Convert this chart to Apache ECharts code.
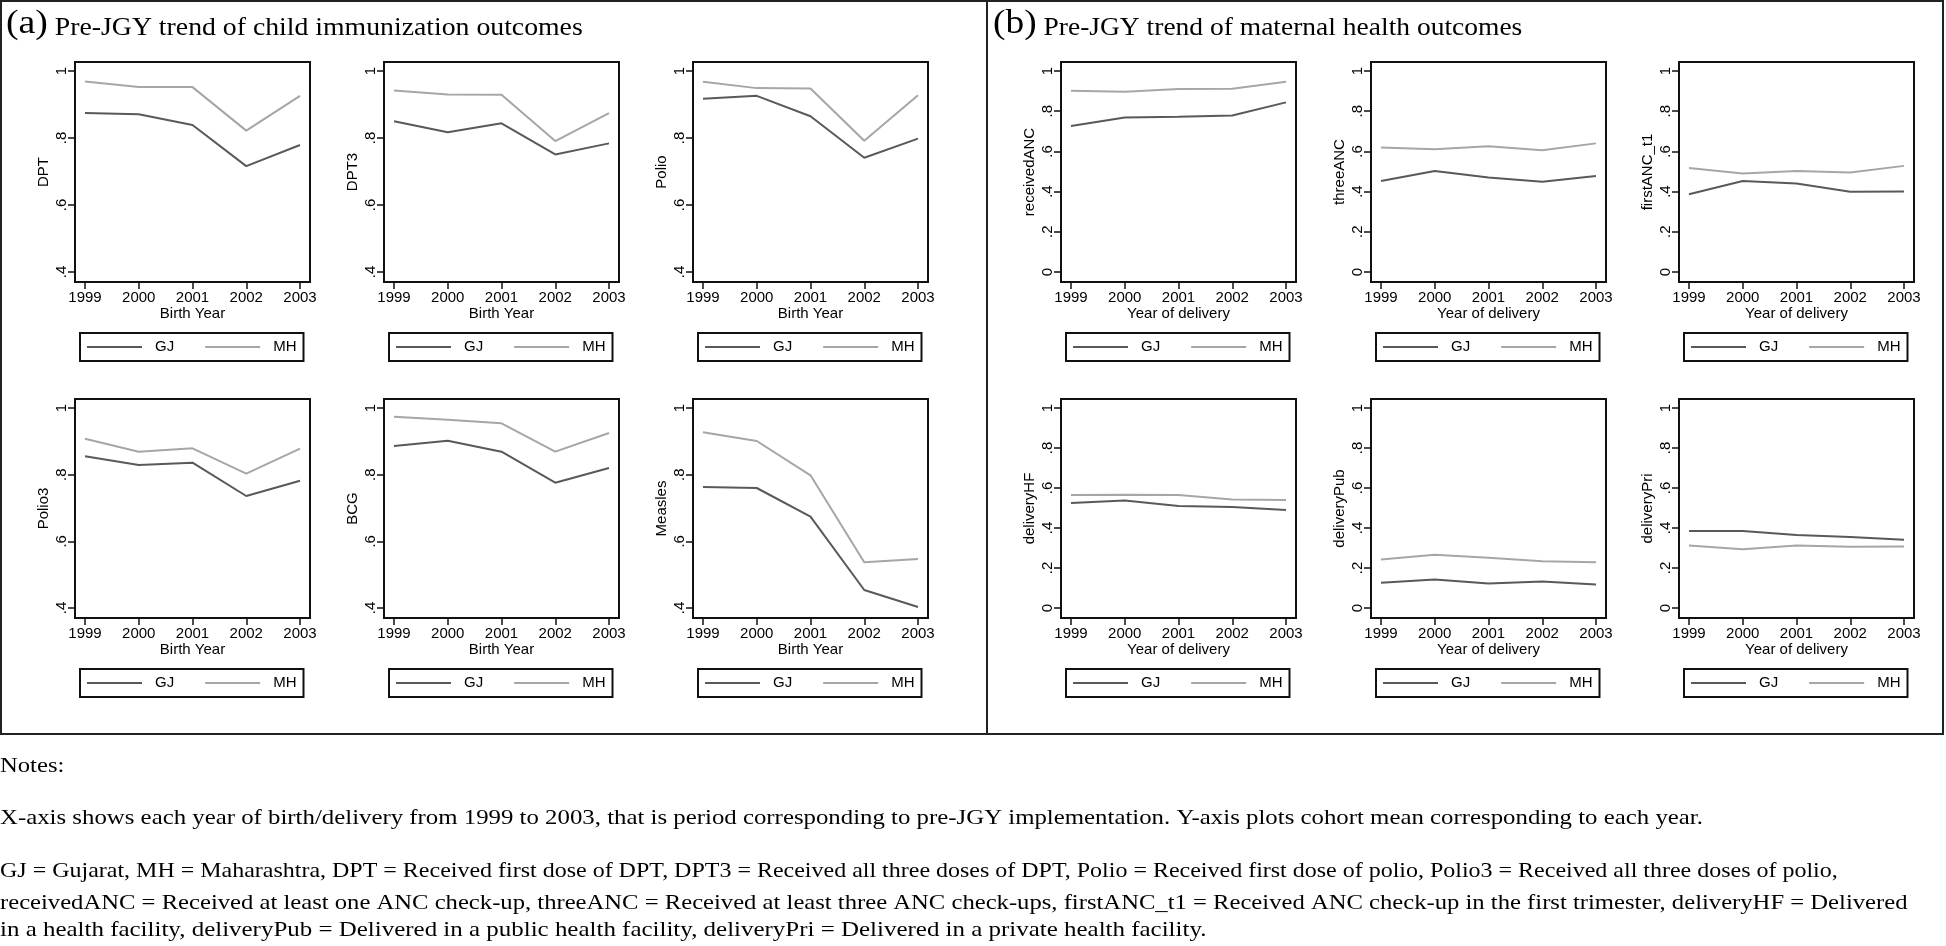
<!DOCTYPE html>
<html><head><meta charset="utf-8">
<script src="https://cdn.jsdelivr.net/npm/echarts@6/dist/echarts.min.js"></script>
<style>html,body{margin:0;padding:0;background:#fff;}#c{width:1946px;height:946px;}</style>
</head><body><div id="c"></div>
<script>
// ---- data ----
const years = [1999, 2000, 2001, 2002, 2003];
const yTicksChild = [0.4, 0.6, 0.8, 1];
const yTicksMaternal = [0, 0.2, 0.4, 0.6, 0.8, 1];
const stateNames = ['GJ', 'MH'];

const childVars = ['DPT', 'DPT3', 'Polio', 'Polio3', 'BCG', 'Measles'];
const maternalVars = ['receivedANC', 'threeANC', 'firstANC_t1', 'deliveryHF', 'deliveryPub', 'deliveryPri'];

const DPT_GJ = [0.875, 0.871, 0.839, 0.716, 0.779];
const DPT_MH = [0.969, 0.952, 0.952, 0.822, 0.926];
const DPT3_GJ = [0.850, 0.817, 0.844, 0.751, 0.784];
const DPT3_MH = [0.942, 0.930, 0.929, 0.791, 0.874];
const Polio_GJ = [0.917, 0.926, 0.865, 0.741, 0.798];
const Polio_MH = [0.968, 0.949, 0.948, 0.792, 0.928];
const Polio3_GJ = [0.855, 0.829, 0.836, 0.736, 0.782];
const Polio3_MH = [0.908, 0.869, 0.879, 0.803, 0.878];
const BCG_GJ = [0.886, 0.902, 0.869, 0.776, 0.820];
const BCG_MH = [0.974, 0.965, 0.954, 0.869, 0.925];
const Measles_GJ = [0.763, 0.760, 0.674, 0.454, 0.403];
const Measles_MH = [0.927, 0.901, 0.798, 0.537, 0.547];

const receivedANC_GJ = [0.726, 0.769, 0.772, 0.779, 0.844];
const receivedANC_MH = [0.902, 0.897, 0.910, 0.912, 0.947];
const threeANC_GJ = [0.453, 0.503, 0.470, 0.449, 0.477];
const threeANC_MH = [0.620, 0.611, 0.626, 0.606, 0.640];
const firstANC_t1_GJ = [0.387, 0.453, 0.440, 0.399, 0.400];
const firstANC_t1_MH = [0.518, 0.490, 0.502, 0.495, 0.528];
const deliveryHF_GJ = [0.525, 0.538, 0.510, 0.505, 0.490];
const deliveryHF_MH = [0.565, 0.566, 0.565, 0.542, 0.540];
const deliveryPub_GJ = [0.126, 0.143, 0.123, 0.133, 0.118];
const deliveryPub_MH = [0.243, 0.266, 0.251, 0.234, 0.229];
const deliveryPri_GJ = [0.385, 0.385, 0.365, 0.355, 0.341];
const deliveryPri_MH = [0.312, 0.294, 0.312, 0.306, 0.307];

const dataByVar = {
  DPT: [DPT_GJ, DPT_MH], DPT3: [DPT3_GJ, DPT3_MH], Polio: [Polio_GJ, Polio_MH],
  Polio3: [Polio3_GJ, Polio3_MH], BCG: [BCG_GJ, BCG_MH], Measles: [Measles_GJ, Measles_MH],
  receivedANC: [receivedANC_GJ, receivedANC_MH], threeANC: [threeANC_GJ, threeANC_MH],
  firstANC_t1: [firstANC_t1_GJ, firstANC_t1_MH], deliveryHF: [deliveryHF_GJ, deliveryHF_MH],
  deliveryPub: [deliveryPub_GJ, deliveryPub_MH], deliveryPri: [deliveryPri_GJ, deliveryPri_MH]
};

const titleA = 'Pre-JGY trend of child immunization outcomes';
const titleB = 'Pre-JGY trend of maternal health outcomes';
const noteLines = [
  'Notes:',
  'X-axis shows each year of birth/delivery from 1999 to 2003, that is period corresponding to pre-JGY implementation. Y-axis plots cohort mean corresponding to each year.',
  'GJ = Gujarat, MH = Maharashtra, DPT = Received first dose of DPT, DPT3 = Received all three doses of DPT, Polio = Received first dose of polio, Polio3 = Received all three doses of polio,',
  'receivedANC = Received at least one ANC check-up, threeANC = Received at least three ANC check-ups, firstANC_t1 = Received ANC check-up in the first trimester, deliveryHF = Delivered',
  'in a health facility, deliveryPub = Delivered in a public health facility, deliveryPri = Delivered in a private health facility.'
];

// ---- layout / style ----
const SANS = '"Liberation Sans", Arial, sans-serif';
const SERIF = '"Liberation Serif", "Times New Roman", serif';
const lineColors = ['#595959', '#a6a6a6'];
const colLeftA = [75, 384, 693];
const colLeftB = [1061, 1371, 1679];
const rowTop = [62, 399];
const rowH = [220, 219];
const gridW = 235;
const noteStretch = [1.12, 1.128, 1.09, 1.12, 1.134];
const noteY = [766, 818, 871, 903, 930];

function fmtTick(v) {
  const s = String(Math.round(v * 10) / 10);
  return s.replace(/^0\./, '.');
}

const grids = [], xAxes = [], yAxes = [], series = [], legends = [];
function addPanel(varName, left, top, h, isChild) {
  const i = grids.length;
  grids.push({ left: left, top: top, width: gridW, height: h, show: true,
    borderColor: '#111', borderWidth: 2, backgroundColor: '#fff', containLabel: false });
  xAxes.push({
    gridIndex: i, type: 'value', min: 1998.814, max: 2003.186,
    name: isChild ? 'Birth Year' : 'Year of delivery', nameLocation: 'middle', nameGap: 24,
    nameMoveOverlap: false,
    nameTextStyle: { fontFamily: SANS, fontSize: 15, color: '#000' },
    axisLine: { show: true, onZero: false, lineStyle: { color: '#111', width: 2 } },
    axisTick: { show: true, customValues: years, length: 7, lineStyle: { color: '#111', width: 1.5 } },
    axisLabel: { show: true, customValues: years, margin: 8, fontFamily: SANS, fontSize: 15, color: '#000',
      formatter: v => String(Math.round(v)) },
    splitLine: { show: false }
  });
  yAxes.push({
    gridIndex: i, type: 'value', min: isChild ? 0.37 : -0.05, max: isChild ? 1.027 : 1.045,
    name: varName, nameLocation: 'middle', nameGap: 24, nameRotate: 90,
    nameMoveOverlap: false,
    nameTextStyle: { fontFamily: SANS, fontSize: 15, color: '#000' },
    axisLine: { show: true, onZero: false, lineStyle: { color: '#111', width: 2 } },
    axisTick: { show: true, customValues: isChild ? yTicksChild : yTicksMaternal, length: 7,
      lineStyle: { color: '#111', width: 1.5 } },
    axisLabel: { show: true, customValues: isChild ? yTicksChild : yTicksMaternal, rotate: 90, margin: 6,
      fontFamily: SANS, fontSize: 15, color: '#000', formatter: fmtTick },
    splitLine: { show: false }
  });
  const vals = dataByVar[varName];
  stateNames.forEach((nm, k) => {
    series.push({
      name: nm, type: 'line', xAxisIndex: i, yAxisIndex: i, symbol: 'none', silent: true,
      data: years.map((yr, j) => [yr, vals[k][j]]),
      lineStyle: { color: lineColors[k], width: 2 }, itemStyle: { color: lineColors[k] },
      animation: false
    });
  });
  legends.push({
    data: stateNames.map(n => ({ name: n, icon: 'rect' })),
    left: left + 5, top: top + h + 51, orient: 'horizontal',
    itemWidth: 55, itemHeight: 2, itemGap: 31, padding: [6, 7, 6, 7],
    borderColor: '#111', borderWidth: 2, selectedMode: false,
    textStyle: { fontFamily: SANS, fontSize: 15, color: '#000', padding: [0, 0, 0, 8], lineHeight: 16 }
  });
}

childVars.forEach((v, idx) => addPanel(v, colLeftA[idx % 3], rowTop[Math.floor(idx / 3)], rowH[Math.floor(idx / 3)], true));
maternalVars.forEach((v, idx) => addPanel(v, colLeftB[idx % 3], rowTop[Math.floor(idx / 3)], rowH[Math.floor(idx / 3)], false));

const richTitle = {
  p: { fontFamily: SERIF, fontSize: 34, fontWeight: 'normal', fill: '#000', lineHeight: 34, verticalAlign: 'bottom' },
  t: { fontFamily: SERIF, fontSize: 25, fontWeight: 'normal', fill: '#000', lineHeight: 25, verticalAlign: 'bottom' }
};

const graphics = [
  { type: 'rect', silent: true, shape: { x: 1, y: 1, width: 1942, height: 733 },
    style: { fill: 'none', stroke: '#222', lineWidth: 2 } },
  { type: 'line', silent: true, shape: { x1: 987, y1: 1, x2: 987, y2: 734 },
    style: { stroke: '#222', lineWidth: 2 } },
  { type: 'text', silent: true, x: 6, y: 24, scaleX: 1.11,
    style: { text: '{p|(a)}{t| ' + titleA + '}', rich: richTitle, verticalAlign: 'middle', align: 'left' } },
  { type: 'text', silent: true, x: 993, y: 24, scaleX: 1.10,
    style: { text: '{p|(b)}{t| ' + titleB + '}', rich: richTitle, verticalAlign: 'middle', align: 'left' } }
];
noteLines.forEach((t, k) => graphics.push({
  type: 'text', silent: true, x: 0, y: noteY[k], scaleX: noteStretch[k],
  style: { text: t, font: '22px ' + SERIF, fill: '#000', verticalAlign: 'middle', align: 'left' }
}));

const chart = echarts.init(document.getElementById('c'), null, { renderer: 'canvas' });
chart.setOption({
  backgroundColor: '#fff',
  animation: false,
  grid: grids, xAxis: xAxes, yAxis: yAxes, series: series, legend: legends,
  graphic: graphics
});
</script></body></html>
